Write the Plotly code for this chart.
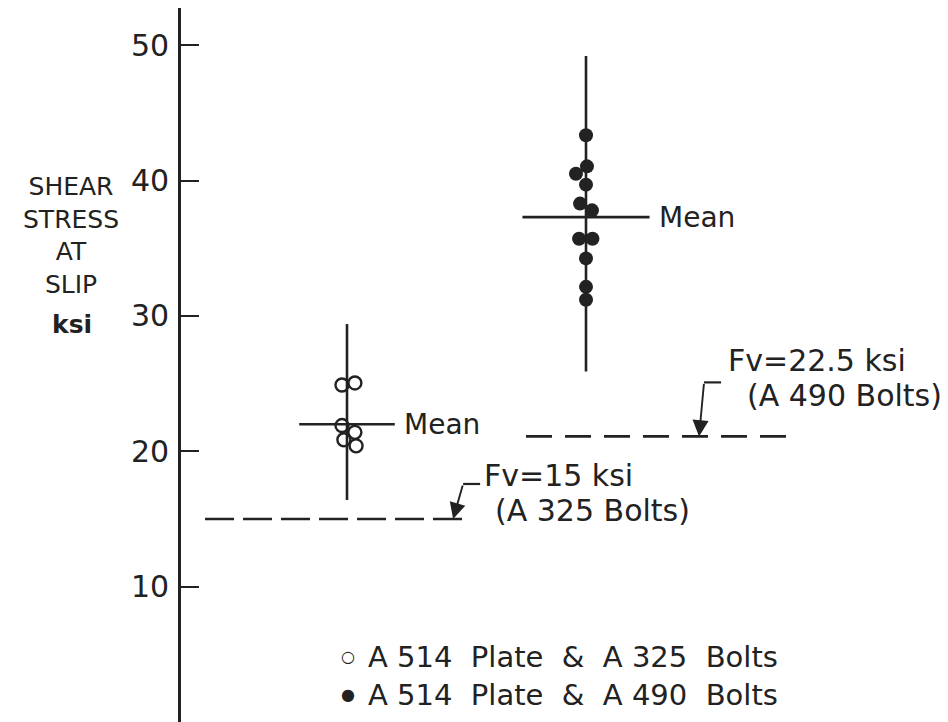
import plotly.graph_objects as go

# group positions on the hidden x axis
groups = [1, 2]

# open circles: A 514 plate & A 325 bolts (ksi), with small sideways offsets
a325_y = [24.9, 25.05, 21.9, 21.4, 20.85, 20.4]
a325_dx = [-0.021, 0.033, -0.021, 0.033, -0.013, 0.038]

# filled circles: A 514 plate & A 490 bolts (ksi)
a490_y = [43.35, 41.05, 40.5, 39.7, 38.3, 37.8, 35.7, 35.7, 34.25, 32.15, 31.2]
a490_dx = [0, 0.004, -0.042, 0, -0.025, 0.025, -0.029, 0.027, 0, 0, 0]

# scatter band (vertical bar) and mean for each group
range_lo = [16.4, 25.9]
range_hi = [29.4, 49.2]
means = [22.0, 37.3]

# allowable shear lines (level as drawn) and their labels
fv_levels = [15.0, 21.1]
fv_labels = ["Fv=15 ksi", "Fv=22.5 ksi"]
fv_bolts = ["(A 325 Bolts)", "(A 490 Bolts)"]

y_ticks = [10, 20, 30, 40, 50]
legend_symbols = ["\u25CB", "\u25CF"]
legend_labels = ["A 514  Plate  &  A 325  Bolts",
                 "A 514  Plate  &  A 490  Bolts"]
title_lines = ["SHEAR", "STRESS", "AT", "SLIP"]

INK = "#222222"
FONT = "DejaVu Sans"

# the page has an 8px body margin, so the figure is 8px smaller than the window
PX_X = 239.0           # px per group step
PX_Y = 714.0 / 52.75   # px per ksi
X0_PX = 108.0          # page px of x = 0


def page_y(py):
    # page pixel row -> ksi
    return (722.0 - py) / PX_Y


def page_x(px):
    # page pixel column -> x units
    return (px - X0_PX) / PX_X


fig = go.Figure()

# vertical scatter bars and mean lines
mean_half = [0.2, 0.266]
for g, lo, hi, m, hw in zip(groups, range_lo, range_hi, means, mean_half):
    fig.add_trace(go.Scatter(x=[g, g], y=[lo, hi], mode="lines",
                             line=dict(color=INK, width=2.6), showlegend=False))
    fig.add_trace(go.Scatter(x=[g - hw, g + hw], y=[m, m], mode="lines",
                             line=dict(color=INK, width=2.6), showlegend=False))
    fig.add_annotation(x=g + hw + 7 / PX_X, y=m, text="Mean", showarrow=False,
                       xanchor="left", yanchor="middle",
                       font=dict(family=FONT, size=28, color=INK))

fig.add_trace(go.Scatter(x=[groups[0] + d for d in a325_dx], y=a325_y, mode="markers",
                         marker=dict(symbol="circle-open", size=13, color=INK,
                                     line=dict(width=2.4, color=INK)),
                         showlegend=False))
fig.add_trace(go.Scatter(x=[groups[1] + d for d in a490_dx], y=a490_y, mode="markers",
                         marker=dict(symbol="circle", size=14, color=INK),
                         showlegend=False))

# dashed allowable lines
dash_x = [(0.406, 1.506), (1.749, 2.845)]
dash_pat = ["29px,9px", "26px,13px"]
arrow_x = [1.444, 2.473]
arrow_off = [(10, -35), (5, -54)]
text_x = [(1.565, 1.611), (2.586, 2.665)]
text_py = [(475, 510), (360, 395)]
for lvl, (x0, x1), pat, ax, (ox, oy), (tx1, tx2), (p1, p2), lab, bolts in zip(
        fv_levels, dash_x, dash_pat, arrow_x, arrow_off, text_x, text_py, fv_labels, fv_bolts):
    fig.add_trace(go.Scatter(x=[x0, x1], y=[lvl, lvl], mode="lines",
                             line=dict(color=INK, width=2.6, dash=pat), showlegend=False))
    tail_x = ax + ox / PX_X
    tail_y = lvl - oy / PX_Y
    fig.add_annotation(x=ax, y=lvl, ax=tail_x, ay=tail_y, axref="x", ayref="y",
                       text="", showarrow=True, arrowhead=2, arrowsize=1.7,
                       arrowwidth=1.9, arrowcolor=INK, standoff=0)
    fig.add_shape(type="line", x0=tail_x, x1=tail_x + 17 / PX_X, y0=tail_y, y1=tail_y,
                  line=dict(color=INK, width=2.2))
    fig.add_annotation(x=tx1, y=page_y(p1), text=lab, showarrow=False,
                       xanchor="left", yanchor="middle",
                       font=dict(family=FONT, size=30, color=INK))
    fig.add_annotation(x=tx2, y=page_y(p2), text=bolts, showarrow=False,
                       xanchor="left", yanchor="middle",
                       font=dict(family=FONT, size=30, color=INK))

# legend: small symbol plus text
for i, (sym, lab) in enumerate(zip(legend_symbols, legend_labels)):
    py = 657 + 38 * i
    fig.add_annotation(x=page_x(348), y=page_y(py - 1), text=sym, showarrow=False,
                       xanchor="center", yanchor="middle",
                       font=dict(family=FONT, size=16, color=INK))
    fig.add_annotation(x=page_x(366), y=page_y(py), text=lab, showarrow=False,
                       xanchor="left", yanchor="middle",
                       font=dict(family=FONT, size=29, color=INK))

# y axis title, stacked words in one block (line pitch 1.3 em ~ 32 px)
fig.add_annotation(x=-110 / 767, y=1 - (235 - 8) / 714, xref="paper", yref="paper",
                   text="<br>".join(title_lines), showarrow=False,
                   xanchor="center", yanchor="middle", align="center",
                   font=dict(family=FONT, size=25, color=INK))
fig.add_annotation(x=-109 / 767, y=1 - (324 - 8) / 714, xref="paper", yref="paper",
                   text="<b>ksi</b>", showarrow=False, xanchor="center", yanchor="middle",
                   font=dict(family=FONT, size=25, color=INK))

fig.update_layout(
    width=940, height=714,
    margin=dict(l=173, r=0, t=0, b=0),
    paper_bgcolor="white", plot_bgcolor="white",
    showlegend=False,
    xaxis=dict(range=[page_x(181), page_x(948)], visible=False),
    yaxis=dict(range=[0, 52.75], tickvals=y_ticks, ticks="inside", ticklen=18,
               tickwidth=2.2, tickcolor=INK, showline=True, linewidth=2.6, linecolor=INK,
               showgrid=False, zeroline=False, ticklabelstandoff=3,
               tickfont=dict(family=FONT, size=30, color=INK)),
)

fig.write_html("out.html")
